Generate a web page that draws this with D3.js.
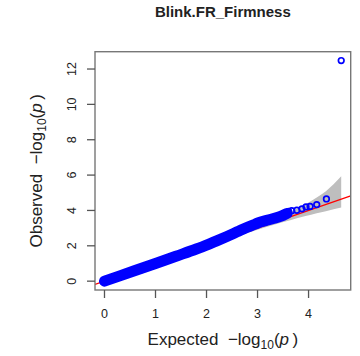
<!DOCTYPE html>
<html>
<head>
<meta charset="utf-8">
<script src="https://cdn.jsdelivr.net/npm/d3@7"></script>
<style>
  html, body { margin: 0; padding: 0; background: #fff; }
  svg { display: block; font-family: "Liberation Sans", Arial, sans-serif; }
</style>
</head>
<body>
<svg id="chart" width="360" height="356"></svg>
<script>
// QQ plot of GWAS p-values: expected vs observed -log10(p)
const title = "Blink.FR_Firmness";

// Dense body of the point cloud (expected, observed)
const expDense = [0, 0.3, 0.6, 1.0, 1.4, 1.8, 2.0, 2.2, 2.4, 2.6, 2.8, 2.95, 3.05, 3.2, 3.35, 3.5, 3.58];
const obsDense = [0, 0.3, 0.6, 1.0, 1.41, 1.82, 2.04, 2.28, 2.53, 2.79, 3.05, 3.22, 3.34, 3.46, 3.57, 3.72, 3.83];

// Sparse tail points, drawn individually
const expTail = [3.61, 3.67, 3.77, 3.87, 3.95, 4.03, 4.16, 4.35, 4.64];
const obsTail = [3.95, 3.99, 4.01, 4.09, 4.20, 4.23, 4.33, 4.65, 12.48];

// 90% confidence band around the null expectation
const bandExp   = [0, 1.64, 2.64, 2.94, 3.34, 3.64, 3.94, 4.16, 4.34, 4.64];
const bandUpper = [0, 1.66, 2.72, 3.05, 3.52, 3.91, 4.35, 4.73, 5.09, 5.93];
const bandLower = [0, 1.62, 2.57, 2.85, 3.20, 3.44, 3.68, 3.84, 3.96, 4.16];

const xTicks = [0, 1, 2, 3, 4];
const yTicks = [0, 2, 4, 6, 8, 10, 12];

const svg = d3.select("#chart");
const plot = { left: 95, right: 350.7, top: 51.7, bottom: 290 };

const x = d3.scaleLinear().domain([-0.186, 4.826]).range([plot.left, plot.right]);
const y = d3.scaleLinear().domain([-0.5, 12.98]).range([plot.bottom, plot.top]);

svg.append("clipPath").attr("id", "plotclip")
  .append("rect")
  .attr("x", plot.left).attr("y", plot.top)
  .attr("width", plot.right - plot.left).attr("height", plot.bottom - plot.top);

const g = svg.append("g").attr("clip-path", "url(#plotclip)");

// confidence band
const band = bandExp.map((e, i) => ({ e, lo: bandLower[i], hi: bandUpper[i] }));
g.append("path")
  .datum(band)
  .attr("fill", "#bebebe")
  .attr("d", d3.area()
    .x(d => x(d.e))
    .y0(d => y(d.lo))
    .y1(d => y(d.hi))
    .curve(d3.curveMonotoneX));

// y = x reference line
g.append("line")
  .attr("x1", x(-0.186)).attr("y1", y(-0.186))
  .attr("x2", x(4.826)).attr("y2", y(4.826))
  .attr("stroke", "#ff0000").attr("stroke-width", 1.2);

// dense point cloud
const dense = expDense.map((e, i) => [e, obsDense[i]]);
g.append("path")
  .datum(dense)
  .attr("fill", "none")
  .attr("stroke", "#0000ff")
  .attr("stroke-width", 11)
  .attr("stroke-linecap", "round")
  .attr("stroke-linejoin", "round")
  .attr("d", d3.line().x(d => x(d[0])).y(d => y(d[1])).curve(d3.curveMonotoneX));

// tail points
const tail = expTail.map((e, i) => [e, obsTail[i]]);
g.selectAll("circle.tail")
  .data(tail)
  .join("circle")
  .attr("class", "tail")
  .attr("cx", d => x(d[0]))
  .attr("cy", d => y(d[1]))
  .attr("r", 2.8)
  .attr("fill", "none")
  .attr("stroke", "#0000ff")
  .attr("stroke-width", 1.7);

// frame
svg.append("rect")
  .attr("x", plot.left).attr("y", plot.top)
  .attr("width", plot.right - plot.left).attr("height", plot.bottom - plot.top)
  .attr("fill", "none").attr("stroke", "#777").attr("stroke-width", 1.4);

// x axis
const xAxis = svg.append("g");
xAxis.selectAll("line")
  .data(xTicks).join("line")
  .attr("x1", d => x(d)).attr("x2", d => x(d))
  .attr("y1", plot.bottom).attr("y2", plot.bottom + 8)
  .attr("stroke", "#555").attr("stroke-width", 1.3);
xAxis.selectAll("text")
  .data(xTicks).join("text")
  .attr("x", d => x(d)).attr("y", 318)
  .attr("text-anchor", "middle")
  .attr("font-size", 12.5).attr("fill", "#222")
  .text(d => d);

// y axis
const yAxis = svg.append("g");
yAxis.selectAll("line")
  .data(yTicks).join("line")
  .attr("x1", plot.left - 8).attr("x2", plot.left)
  .attr("y1", d => y(d)).attr("y2", d => y(d))
  .attr("stroke", "#555").attr("stroke-width", 1.3);
yAxis.selectAll("text")
  .data(yTicks).join("text")
  .attr("transform", d => `translate(76,${y(d)}) rotate(-90)`)
  .attr("text-anchor", "middle")
  .attr("font-size", 12.5).attr("fill", "#222")
  .text(d => d);

// title
svg.append("text")
  .attr("x", (plot.left + plot.right) / 2).attr("y", 17)
  .attr("text-anchor", "middle")
  .attr("font-size", 15).attr("font-weight", "bold").attr("fill", "#222")
  .text(title);

// axis titles with -log10(p)
function axisTitle(sel, word) {
  sel.append("tspan").text(word + "\u00a0\u00a0\u2212log");
  sel.append("tspan").attr("font-size", 12).attr("dy", 4).text("10");
  sel.append("tspan").attr("dy", -4).text("(");
  sel.append("tspan").attr("font-style", "italic").text("p");
  sel.append("tspan").text("\u2009)");
}

const xt = svg.append("text")
  .attr("x", (plot.left + plot.right) / 2).attr("y", 345)
  .attr("text-anchor", "middle")
  .attr("font-size", 17).attr("fill", "#222");
axisTitle(xt, "Expected");

const yt = svg.append("text")
  .attr("transform", `translate(42,${(plot.top + plot.bottom) / 2}) rotate(-90)`)
  .attr("text-anchor", "middle")
  .attr("font-size", 17).attr("fill", "#222");
axisTitle(yt, "Observed");
</script>
</body>
</html>
